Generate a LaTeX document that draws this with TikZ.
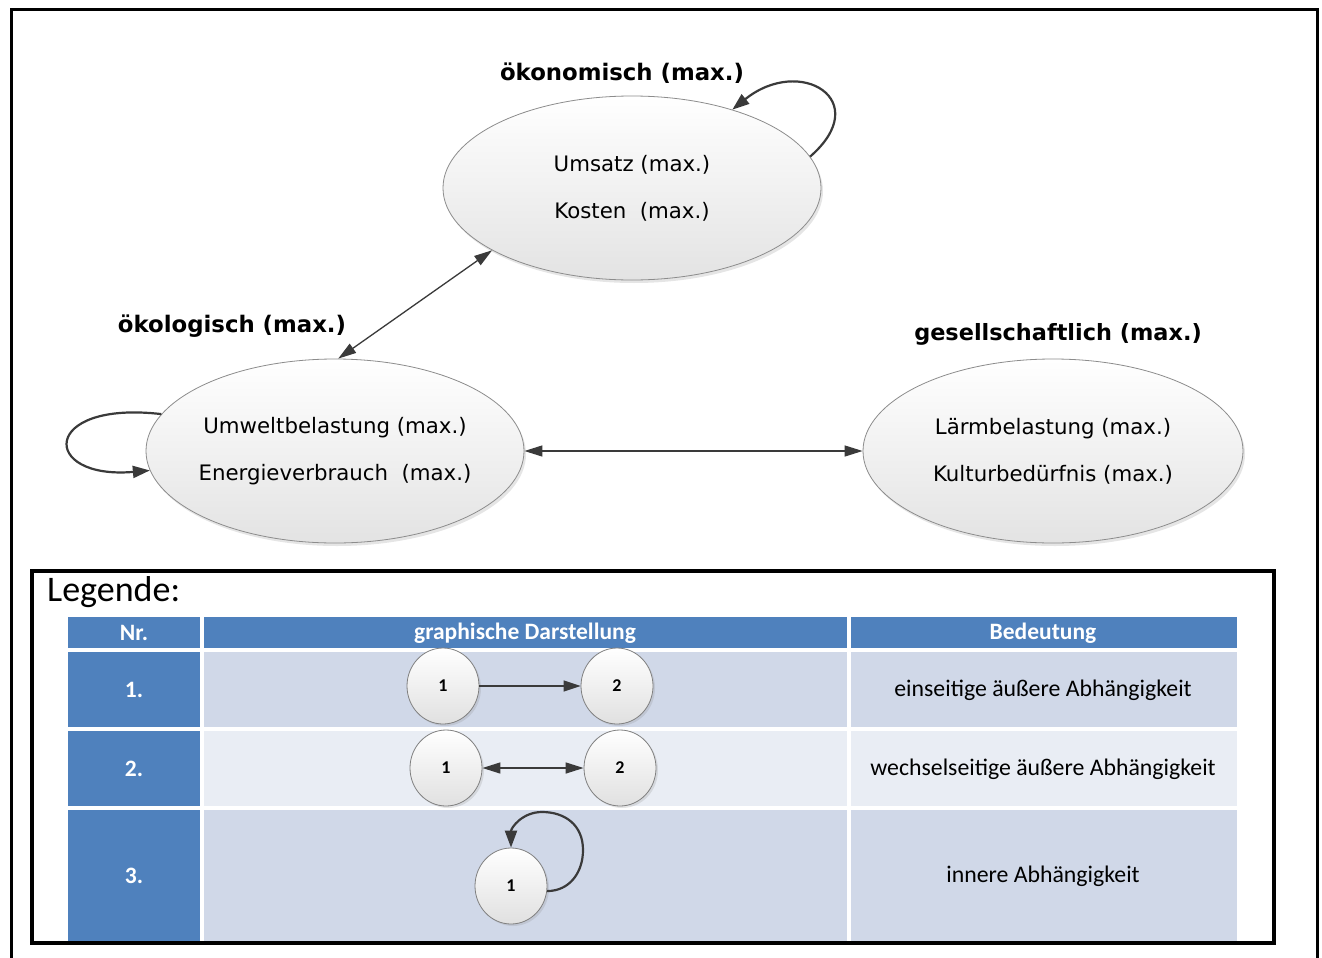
\documentclass[tikz,border=0pt]{standalone}
\usepackage{fontspec}
\setmainfont{DejaVu Sans}
\newfontfamily\carl{Carlito}
\usetikzlibrary{shapes.geometric,arrows.meta,shadows}
\definecolor{hdrblue}{HTML}{4F81BD}
\definecolor{rowa}{HTML}{D0D8E8}
\definecolor{rowb}{HTML}{E9EDF4}
\definecolor{arr}{HTML}{3A3A3A}
\begin{document}
\begin{tikzpicture}[x=1pt,y=-1pt,
 bigell/.style={ellipse,minimum width=378pt,minimum height=184pt,inner sep=0pt,inner xsep=-40pt,align=center,
   font=\fontsize{21.3}{25}\selectfont,top color=white,bottom color=black!11,draw=black!45,line width=0.8pt,
   drop shadow={opacity=0.2,shadow xshift=2pt,shadow yshift=-3pt}},
 grplbl/.style={font=\bfseries\fontsize{22.8}{26}\selectfont,inner sep=0pt},
 conn/.style={draw=arr,line width=1.3pt,arrows={Triangle[length=18pt,width=11pt]-Triangle[length=18pt,width=11pt]}},
 oneway/.style={draw=arr,line width=1.4pt,arrows={-Triangle[length=17pt,width=11pt]}},
 loopc/.style={draw=arr,line width=2.2pt,arrows={-Triangle[length=17pt,width=12pt]}},
 lc/.style={ellipse,minimum width=72pt,minimum height=76pt,inner sep=0pt,
   font=\carl\bfseries\fontsize{18}{20}\selectfont,top color=white,bottom color=black!12,draw=black!50,line width=0.8pt,
   drop shadow={opacity=0.2,shadow xshift=2pt,shadow yshift=-2pt}},
 hdr/.style={font=\carl\bfseries\fontsize{23.5}{26}\selectfont,text=white,inner sep=0pt},
 celltxt/.style={font=\carl\fontsize{23.8}{27}\selectfont,inner sep=0pt},
]
\useasboundingbox (0,0) rectangle (1322,958);
\clip (0,0) rectangle (1322,958);
\fill[white] (0,0) rectangle (1322,958);
% outer frame
\draw[line width=3pt] (11.5,9.5) rectangle (1317.5,990);

% main ellipses
\node[bigell] (eco) at (632,188) {Umsatz (max.)\\[22pt]Kosten\ \ (max.)};
\node[bigell] (ecl) at (335,451) {Umweltbelastung (max.)\\[22pt]Energieverbrauch\ \ (max.)};
\node[bigell,minimum width=380pt] (soc) at (1053,451) {Lärmbelastung (max.)\\[22pt]Kulturbedürfnis (max.)};

\node[grplbl] (ecolbl) at (622,73) {ökonomisch (max.)};
\node[grplbl] (ecllbl) at (232,326) {ökologisch (max.)};
\node[grplbl,font=\bfseries\fontsize{22.4}{26}\selectfont] (soclbl) at (1058,334) {gesellschaftlich (max.)};

% connectors
\draw[conn] (ecl.88) -- (eco.204);
\draw[conn] (ecl.east) -- (soc.west);
\draw[loopc] (eco.10) .. controls (875,100) and (800,55) .. (eco.38);
\draw[loopc] (ecl.168) .. controls (40,400) and (40,480) .. (ecl.186);

% legend box
\draw[line width=3.5pt,fill=white] (32,571) rectangle (1274,943);
\node[font=\carl\fontsize{36}{40}\selectfont,anchor=base west,inner sep=0pt] (legtitle) at (47,601) {Legende:};

% table
\fill[hdrblue] (68,617) rectangle (200,648);
\fill[hdrblue] (204,617) rectangle (847,648);
\fill[hdrblue] (851,617) rectangle (1237,648);
\fill[hdrblue] (68,652) rectangle (200,727);
\fill[rowa] (204,652) rectangle (847,727);
\fill[rowa] (851,652) rectangle (1237,727);
\fill[hdrblue] (68,731) rectangle (200,806);
\fill[rowb] (204,731) rectangle (847,806);
\fill[rowb] (851,731) rectangle (1237,806);
\fill[hdrblue] (68,810) rectangle (200,941);
\fill[rowa] (204,810) rectangle (847,941);
\fill[rowa] (851,810) rectangle (1237,941);
\draw[line width=3.5pt] (32,943) -- (1274,943);

\node[hdr] (hnr) at (134,633) {Nr.};
\node[hdr] (hgr) at (525,633) {graphische Darstellung};
\node[hdr] (hbd) at (1043,633) {Bedeutung};
\node[hdr] (n1) at (134,690) {1.};
\node[hdr] (n2) at (134,769) {2.};
\node[hdr] (n3) at (134,876) {3.};
\node[celltxt] (b1) at (1043,690) {einseitige äußere Abhängigkeit};
\node[celltxt] (b2) at (1043,769) {wechselseitige äußere Abhängigkeit};
\node[celltxt] (b3) at (1043,876) {innere Abhängigkeit};

% legend graphics
\node[lc] (a1) at (443,686) {1};
\node[lc] (a2) at (617,686) {2};
\draw[oneway] (a1.east) -- (a2.west);
\node[lc] (c1) at (446,768) {1};
\node[lc] (c2) at (620,768) {2};
\draw[conn,line width=1.4pt] (c1.east) -- (c2.west);
\node[lc] (d1) at (511,886) {1};
\draw[loopc] (d1.-8) .. controls (570,891) and (583,872) .. (583,850)
   .. controls (583,825) and (565,812) .. (542,812)
   .. controls (522,812) and (511,828) .. (d1.north);
\end{tikzpicture}
\end{document}
